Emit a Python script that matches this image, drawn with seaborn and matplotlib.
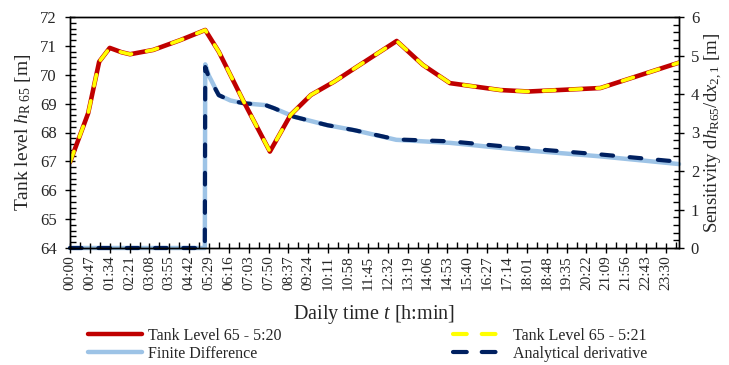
import numpy as np
import pandas as pd
import matplotlib
matplotlib.use("Agg")
import matplotlib.pyplot as plt
import seaborn as sns
from matplotlib.lines import Line2D
from matplotlib.ticker import MultipleLocator, FixedLocator

# ---------------- data ----------------
# time in minutes since midnight
tank_t = [0, 43, 69, 94, 122, 142, 197, 261, 320, 352, 411, 473, 522, 570, 625, 673, 773, 835, 899, 1018, 1085, 1255, 1441]
tank_520 = [66.97, 68.67, 70.45, 70.93, 70.78, 70.71, 70.86, 71.20, 71.55, 70.80, 69.07, 67.34, 68.61, 69.30, 69.76, 70.22, 71.17, 70.34, 69.71, 69.47, 69.42, 69.54, 70.42]
tank_521 = [66.97, 68.67, 70.45, 70.93, 70.78, 70.71, 70.86, 71.20, 71.55, 70.80, 69.07, 67.34, 68.61, 69.30, 69.76, 70.22, 71.17, 70.34, 69.71, 69.47, 69.42, 69.54, 70.42]

sens_t = [0, 319, 320, 328, 352, 380, 411, 463, 483, 530, 609, 673, 772, 900, 1065, 1255, 1441]
finite_diff = [0, 0, 4.77, 4.49, 3.97, 3.83, 3.76, 3.71, 3.63, 3.41, 3.19, 3.06, 2.81, 2.73, 2.55, 2.38, 2.18]
analytical = [0, 0, 4.70, 4.45, 3.97, 3.83, 3.76, 3.71, 3.63, 3.41, 3.19, 3.06, 2.82, 2.77, 2.60, 2.43, 2.24]

tick_pos = [i * 47 for i in range(31)]
tick_labels = ["00:00", "00:47", "01:34", "02:21", "03:08", "03:55", "04:42", "05:29",
               "06:16", "07:03", "07:50", "08:37", "09:24", "10:11", "10:58", "11:45",
               "12:32", "13:19", "14:06", "14:53", "15:40", "16:27", "17:14", "18:01",
               "18:48", "19:35", "20:22", "21:09", "21:56", "22:43", "23:30"]

# ---------------- style ----------------
sns.set_theme(style="white")
plt.rcParams["font.family"] = ["Liberation Serif", "DejaVu Serif"]
plt.rcParams["mathtext.fontset"] = "custom"
plt.rcParams["mathtext.rm"] = "Liberation Serif"
plt.rcParams["mathtext.it"] = "Liberation Serif:italic"

C_RED = "#C00000"
C_YEL = "#FFFF00"
C_LBLUE = "#9DC3E6"
C_NAVY = "#002060"

fig = plt.figure(figsize=(7.29, 3.65), dpi=100)
ax = fig.add_axes([70 / 729, 1 - 248 / 365, (679 - 70) / 729, (248 - 17) / 365])
ax2 = ax.twinx()

df_tank = pd.DataFrame({"t": tank_t, "a": tank_520, "b": tank_521})
df_sens = pd.DataFrame({"t": sens_t, "fd": finite_diff, "an": analytical})

# sensitivity lines (right axis)
sns.lineplot(data=df_sens, x="t", y="fd", ax=ax2, color=C_LBLUE, lw=3.2,
             sort=False, estimator=None, clip_on=False, solid_capstyle="round")
sns.lineplot(data=df_sens, x="t", y="an", ax=ax2, color=C_NAVY, lw=3.0,
             sort=False, estimator=None, clip_on=False,
             linestyle=(0, (2.8, 4.0)), dash_capstyle="round")

# tank lines (left axis), on top
sns.lineplot(data=df_tank, x="t", y="a", ax=ax, color=C_RED, lw=3.3,
             sort=False, estimator=None, solid_capstyle="round")
sns.lineplot(data=df_tank, x="t", y="b", ax=ax, color=C_YEL, lw=2.6,
             sort=False, estimator=None, linestyle=(0, (3.2, 4.2)),
             dash_capstyle="round")

ax.set_zorder(ax2.get_zorder() + 1)
ax.patch.set_visible(False)

ax.set_xlim(0, 1441)
ax.set_ylim(64, 72)
ax2.set_ylim(0, 6)

ax.xaxis.set_major_locator(FixedLocator(tick_pos))
ax.set_xticklabels(tick_labels, rotation=90, fontsize=11)
ax.xaxis.set_minor_locator(FixedLocator([p + 23.5 for p in tick_pos]))
ax.yaxis.set_major_locator(MultipleLocator(1))
ax.yaxis.set_minor_locator(MultipleLocator(0.2))
ax2.yaxis.set_major_locator(MultipleLocator(1))
ax2.yaxis.set_minor_locator(MultipleLocator(0.2))

for a in (ax, ax2):
    for s in a.spines.values():
        s.set_color("black")
        s.set_linewidth(1.0)
ax.tick_params(axis="y", which="major", direction="inout", length=7, width=1,
               color="black", labelsize=12, pad=6)
ax.tick_params(axis="x", which="major", direction="inout", length=7, width=1,
               color="black", labelsize=11, pad=2)
ax.tick_params(axis="both", which="minor", direction="in", length=4, width=1, color="black")
ax.tick_params(axis="x", which="both", bottom=True)
ax.tick_params(axis="y", which="both", left=True)
ax2.tick_params(axis="y", which="major", direction="inout", length=7, width=1,
                color="black", labelsize=12, pad=5, right=True)
ax2.tick_params(axis="y", which="minor", direction="in", length=4, width=1,
                color="black", right=True)

ax.set_xlabel("Daily time $t$ [h:min]", fontsize=14.5, labelpad=9)
ax.set_ylabel(r"Tank level $h_{\mathrm{R\ 65}}$ [m]", fontsize=14, labelpad=5)
ax2.set_ylabel(r"Sensitivity d$h_{\mathrm{R65}}$/d$x_{2,1}$ [m]", fontsize=13.5, labelpad=3)

# legends below
h_red = Line2D([], [], color=C_RED, lw=3.2, solid_capstyle="round")
h_lb = Line2D([], [], color=C_LBLUE, lw=3.2, solid_capstyle="round")
h_yel = Line2D([], [], color=C_YEL, lw=3.0, linestyle=(0, (3.3, 3.6)), dash_capstyle="round")
h_nv = Line2D([], [], color=C_NAVY, lw=3.0, linestyle=(0, (3.3, 3.6)), dash_capstyle="round")

kw = dict(frameon=False, fontsize=11.5, handlelength=3.4, handletextpad=0.35,
          labelspacing=0.1, borderaxespad=0, borderpad=0, loc="upper left")
fig.legend([h_red, h_lb], ["Tank Level 65 - 5:20", "Finite Difference"],
           bbox_to_anchor=(88 / 729, 1 - 328 / 365), **kw)
fig.legend([h_yel, h_nv], ["Tank Level 65 - 5:21", "Analytical derivative"],
           bbox_to_anchor=(453 / 729, 1 - 328 / 365), **kw)

fig.savefig("out.png", dpi=100, facecolor="white")
